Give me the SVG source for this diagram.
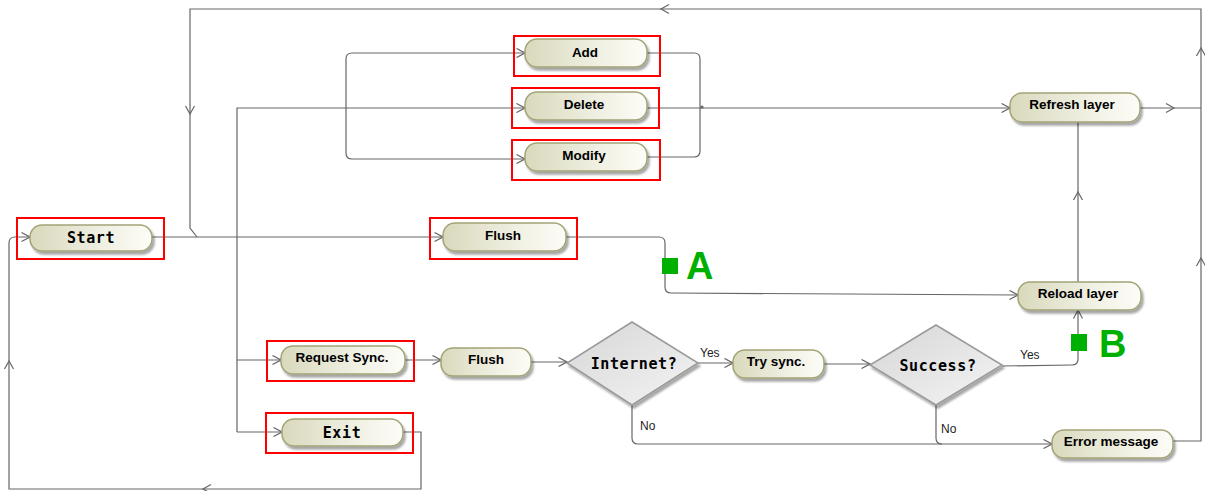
<svg xmlns="http://www.w3.org/2000/svg" width="1205" height="491" viewBox="0 0 1205 491">
  <defs>
    <linearGradient id="nodeFill" x1="0" y1="0" x2="1" y2="0">
      <stop offset="0" stop-color="#d9d9bd"/>
      <stop offset="0.55" stop-color="#eeeee0"/>
      <stop offset="1" stop-color="#fdfdf8"/>
    </linearGradient>
    <linearGradient id="diamondFill" x1="0" y1="0" x2="1" y2="1">
      <stop offset="0" stop-color="#d6d6d6"/>
      <stop offset="1" stop-color="#f4f4f4"/>
    </linearGradient>
    <marker id="arrow" viewBox="0 0 10 10" refX="9.5" refY="5" markerWidth="10" markerHeight="10" markerUnits="userSpaceOnUse" orient="auto">
      <path d="M1,0.5 L9.5,5 L1,9.5" fill="none" stroke="#666" stroke-width="1.2"/>
    </marker>
    <path id="chev" d="M-8,-4.5 L0,0 L-8,4.5" fill="none" stroke="#666" stroke-width="1.2"/>
    <filter id="shadow" x="-10%" y="-30%" width="125%" height="170%">
      <feGaussianBlur in="SourceAlpha" stdDeviation="1.2"/>
      <feOffset dx="2" dy="3"/>
      <feComponentTransfer><feFuncA type="linear" slope="0.35"/></feComponentTransfer>
      <feMerge><feMergeNode/><feMergeNode in="SourceGraphic"/></feMerge>
    </filter>
  </defs>
  <style>
    .conn { fill: none; stroke: #666; stroke-width: 1.2; }
    .arr { marker-end: url(#arrow); }
    .node { fill: url(#nodeFill); stroke: #a3a377; stroke-width: 1.5; filter: url(#shadow); }
    .dia { fill: url(#diamondFill); stroke: #9a9a9a; stroke-width: 1.5; filter: url(#shadow); }
    .hl { fill: none; stroke: #ff0000; stroke-width: 2; }
    .lbl { font-family: "Liberation Sans", Arial, sans-serif; font-weight: bold; font-size: 13.5px; fill: #000; text-anchor: middle; dominant-baseline: central; }
    .mono { font-family: "DejaVu Sans Mono", "Liberation Mono", monospace; font-weight: bold; font-size: 15px; letter-spacing: 0.6px; fill: #000; text-anchor: middle; dominant-baseline: central; }
    .guard { font-family: "Liberation Sans", Arial, sans-serif; font-size: 12px; fill: #222; }
    .mark { fill: #00b000; }
    .markTxt { font-family: "Liberation Sans", Arial, sans-serif; font-weight: bold; font-size: 38px; fill: #00b000; }
  </style>

  <!-- connectors -->
  <g id="connectors">
    <!-- outer loop from Error message back to Start -->
    <path class="conn" d="M1173,441 H1201 V9 H190 V228 L197,237"/>
    <use href="#chev" transform="translate(1201,258) rotate(-90)"/>
    <use href="#chev" transform="translate(1201,48) rotate(-90)"/>
    <use href="#chev" transform="translate(661,9) rotate(180)"/>
    <use href="#chev" transform="translate(190,114) rotate(90)"/>
    <!-- Refresh layer output -->
    <path class="conn" d="M1140,108 H1201"/>
    <use href="#chev" transform="translate(1174,108)"/>
    <!-- Start to Flush -->
    <path class="conn arr" d="M152,237 H443"/>
    <!-- branches to Delete / Request Sync. / Exit -->
    <path class="conn arr" d="M237,432 V108 H525"/>
    <path class="conn arr" d="M237,360 H281"/>
    <path class="conn arr" d="M237,432 H282"/>
    <!-- into Add and Modify -->
    <path class="conn arr" d="M346,106 V59 Q346,53 352,53 H525"/>
    <path class="conn arr" d="M346,106 V153 Q346,159 352,159 H525"/>
    <!-- Add / Modify merge into Delete line -->
    <path class="conn" d="M647,53 H694 Q700,53 700,59 V151 Q700,157 694,157 H647"/>
    <path class="conn arr" d="M647,108 H1010"/>
    <circle cx="702" cy="107" r="1.6" fill="#666"/>
    <!-- Flush to Reload layer -->
    <path class="conn arr" d="M566,237 H659 Q665,237 665,243 V287 Q665,293 671,293 L1018,295"/>
    <!-- Reload layer to Refresh layer -->
    <path class="conn" d="M1078,282 V122"/>
    <use href="#chev" transform="translate(1078,192) rotate(-90)"/>
    <!-- sync chain -->
    <path class="conn arr" d="M405,360 H441"/>
    <path class="conn arr" d="M531,362 H567"/>
    <path class="conn arr" d="M698,363 H733"/>
    <path class="conn arr" d="M824,364 H870"/>
    <!-- Success? yes to Reload layer -->
    <path class="conn arr" d="M1002,366 L1072,365 Q1078,365 1078,359 V310"/>
    <!-- No branches to Error message -->
    <path class="conn arr" d="M632,405 V438 Q632,444 638,444 H1052"/>
    <path class="conn" d="M936,405 V438 Q936,444 942,444"/>
    <!-- Exit loop back to Start -->
    <path class="conn arr" d="M403,432 H421 V489 H9 V243 Q9,237 15,237 H30"/>
    <use href="#chev" transform="translate(203,489) rotate(180)"/>
    <use href="#chev" transform="translate(9,361) rotate(-90)"/>
    <!-- guard labels -->
    <text class="guard" x="700" y="357">Yes</text>
    <text class="guard" x="1020" y="359">Yes</text>
    <text class="guard" x="640" y="430">No</text>
    <text class="guard" x="941" y="433">No</text>
  </g>

  <!-- nodes -->
  <g id="start">
    <rect class="node" x="30" y="225" width="122" height="26" rx="12"/>
    <text class="mono" x="91" y="238">Start</text>
    <rect class="hl" x="17" y="218" width="147" height="41"/>
  </g>
  <g id="add">
    <rect class="node" x="525" y="39" width="122" height="28" rx="12"/>
    <text class="lbl" x="585" y="52">Add</text>
    <rect class="hl" x="514" y="36" width="146" height="40"/>
  </g>
  <g id="delete">
    <rect class="node" x="525" y="92" width="122" height="28" rx="12"/>
    <text class="lbl" x="584" y="104">Delete</text>
    <rect class="hl" x="512" y="88" width="147" height="40"/>
  </g>
  <g id="modify">
    <rect class="node" x="525" y="143" width="122" height="28" rx="12"/>
    <text class="lbl" x="584" y="155">Modify</text>
    <rect class="hl" x="512" y="140" width="148" height="40"/>
  </g>
  <g id="flush-top">
    <rect class="node" x="443" y="223" width="123" height="28" rx="12"/>
    <text class="lbl" x="503" y="235">Flush</text>
    <rect class="hl" x="430" y="218" width="147" height="41"/>
  </g>
  <g id="refresh-layer">
    <rect class="node" x="1010" y="93" width="130" height="29" rx="12"/>
    <text class="lbl" x="1072" y="104">Refresh layer</text>
  </g>
  <g id="reload-layer">
    <rect class="node" x="1018" y="282" width="123" height="28" rx="12"/>
    <text class="lbl" x="1078" y="293">Reload layer</text>
  </g>
  <g id="request-sync">
    <rect class="node" x="281" y="346" width="124" height="28" rx="12"/>
    <text class="lbl" x="342" y="357">Request Sync.</text>
    <rect class="hl" x="267" y="341" width="147" height="40"/>
  </g>
  <g id="flush-sync">
    <rect class="node" x="441" y="348" width="90" height="28" rx="12"/>
    <text class="lbl" x="486" y="359">Flush</text>
  </g>
  <g id="internet">
    <polygon class="dia" points="632,322 698,363 632,405 567,363"/>
    <text class="mono" x="634" y="364">Internet?</text>
  </g>
  <g id="try-sync">
    <rect class="node" x="733" y="350" width="91" height="28" rx="12"/>
    <text class="lbl" x="776" y="361">Try sync.</text>
  </g>
  <g id="success">
    <polygon class="dia" points="936,325 1002,365 936,405 870,365"/>
    <text class="mono" x="938" y="366">Success?</text>
  </g>
  <g id="error-message">
    <rect class="node" x="1052" y="430" width="121" height="28" rx="12"/>
    <text class="lbl" x="1111" y="441">Error message</text>
  </g>
  <g id="exit">
    <rect class="node" x="282" y="419" width="121" height="27" rx="12"/>
    <text class="mono" x="342" y="433">Exit</text>
    <rect class="hl" x="266" y="413" width="147" height="40"/>
  </g>

  <!-- point markers -->
  <g id="marker-a">
    <rect class="mark" x="662" y="258" width="16" height="16"/>
    <text class="markTxt" x="686" y="279">A</text>
  </g>
  <g id="marker-b">
    <rect class="mark" x="1071" y="334" width="16" height="17"/>
    <text class="markTxt" x="1099" y="357">B</text>
  </g>
</svg>
